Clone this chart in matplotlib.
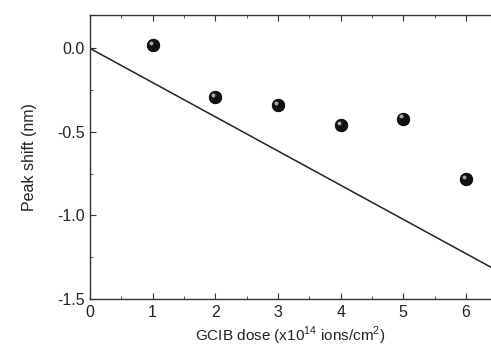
import matplotlib
matplotlib.use('Agg')
import matplotlib.pyplot as plt
import matplotlib.transforms as mtransforms
from matplotlib.ticker import MultipleLocator

# GCIB dose (x10^14 ions/cm^2) and measured peak shift (nm)
dose = [1, 2, 3, 4, 5, 6]
peak_shift = [0.02, -0.29, -0.34, -0.46, -0.42, -0.78]

# reference line
line_x = [0, 6.4]
line_y = [0, -1.31]

plt.rcParams['font.family'] = ['Liberation Sans', 'DejaVu Sans']
plt.rcParams['mathtext.fontset'] = 'custom'
plt.rcParams['mathtext.rm'] = 'Liberation Sans'

fig = plt.figure(figsize=(4.91, 3.47), dpi=100)
ax = fig.add_axes([0.1833, 0.1383, 0.8167, 0.8185])

ax.plot(line_x, line_y, color='#222222', linewidth=1.1)

# spheres: dark ball plus a small highlight
ax.plot(dose, peak_shift, linestyle='none', marker='o', markersize=9,
        markerfacecolor='#111111', markeredgecolor='#000000', markeredgewidth=0.6)
offset = mtransforms.ScaledTranslation(-1.5 / 72, 1.5 / 72, fig.dpi_scale_trans)
ax.plot(dose, peak_shift, linestyle='none', marker='o', markersize=2.8,
        markerfacecolor='#aaaaaa', markeredgewidth=0,
        transform=ax.transData + offset)

ax.set_xlim(0, 6.4)
ax.set_ylim(-1.5, 0.2)
ax.xaxis.set_major_locator(MultipleLocator(1))
ax.xaxis.set_minor_locator(MultipleLocator(0.5))
ax.yaxis.set_major_locator(MultipleLocator(0.5))
ax.yaxis.set_minor_locator(MultipleLocator(0.25))
ax.yaxis.set_major_formatter(plt.FormatStrFormatter('%.1f'))

ax.spines['right'].set_visible(False)
for s in ['left', 'bottom', 'top']:
    ax.spines[s].set_color('#333333')
    ax.spines[s].set_linewidth(1.0)

ax.tick_params(which='both', direction='in', top=True, right=False,
               colors='#333333', labelcolor='#222222', labelsize=11.5)
ax.tick_params(which='major', length=4, pad=4)
ax.tick_params(which='minor', length=2.5)

ax.set_xlabel('GCIB dose (x10$^{\\mathrm{14}}$ ions/cm$^{\\mathrm{2}}$)', fontsize=11,
              color='#222222', labelpad=4)
ax.set_ylabel('Peak shift (nm)', fontsize=11.5, color='#222222', labelpad=14)

plt.savefig('out.png', dpi=100)
plt.close()
